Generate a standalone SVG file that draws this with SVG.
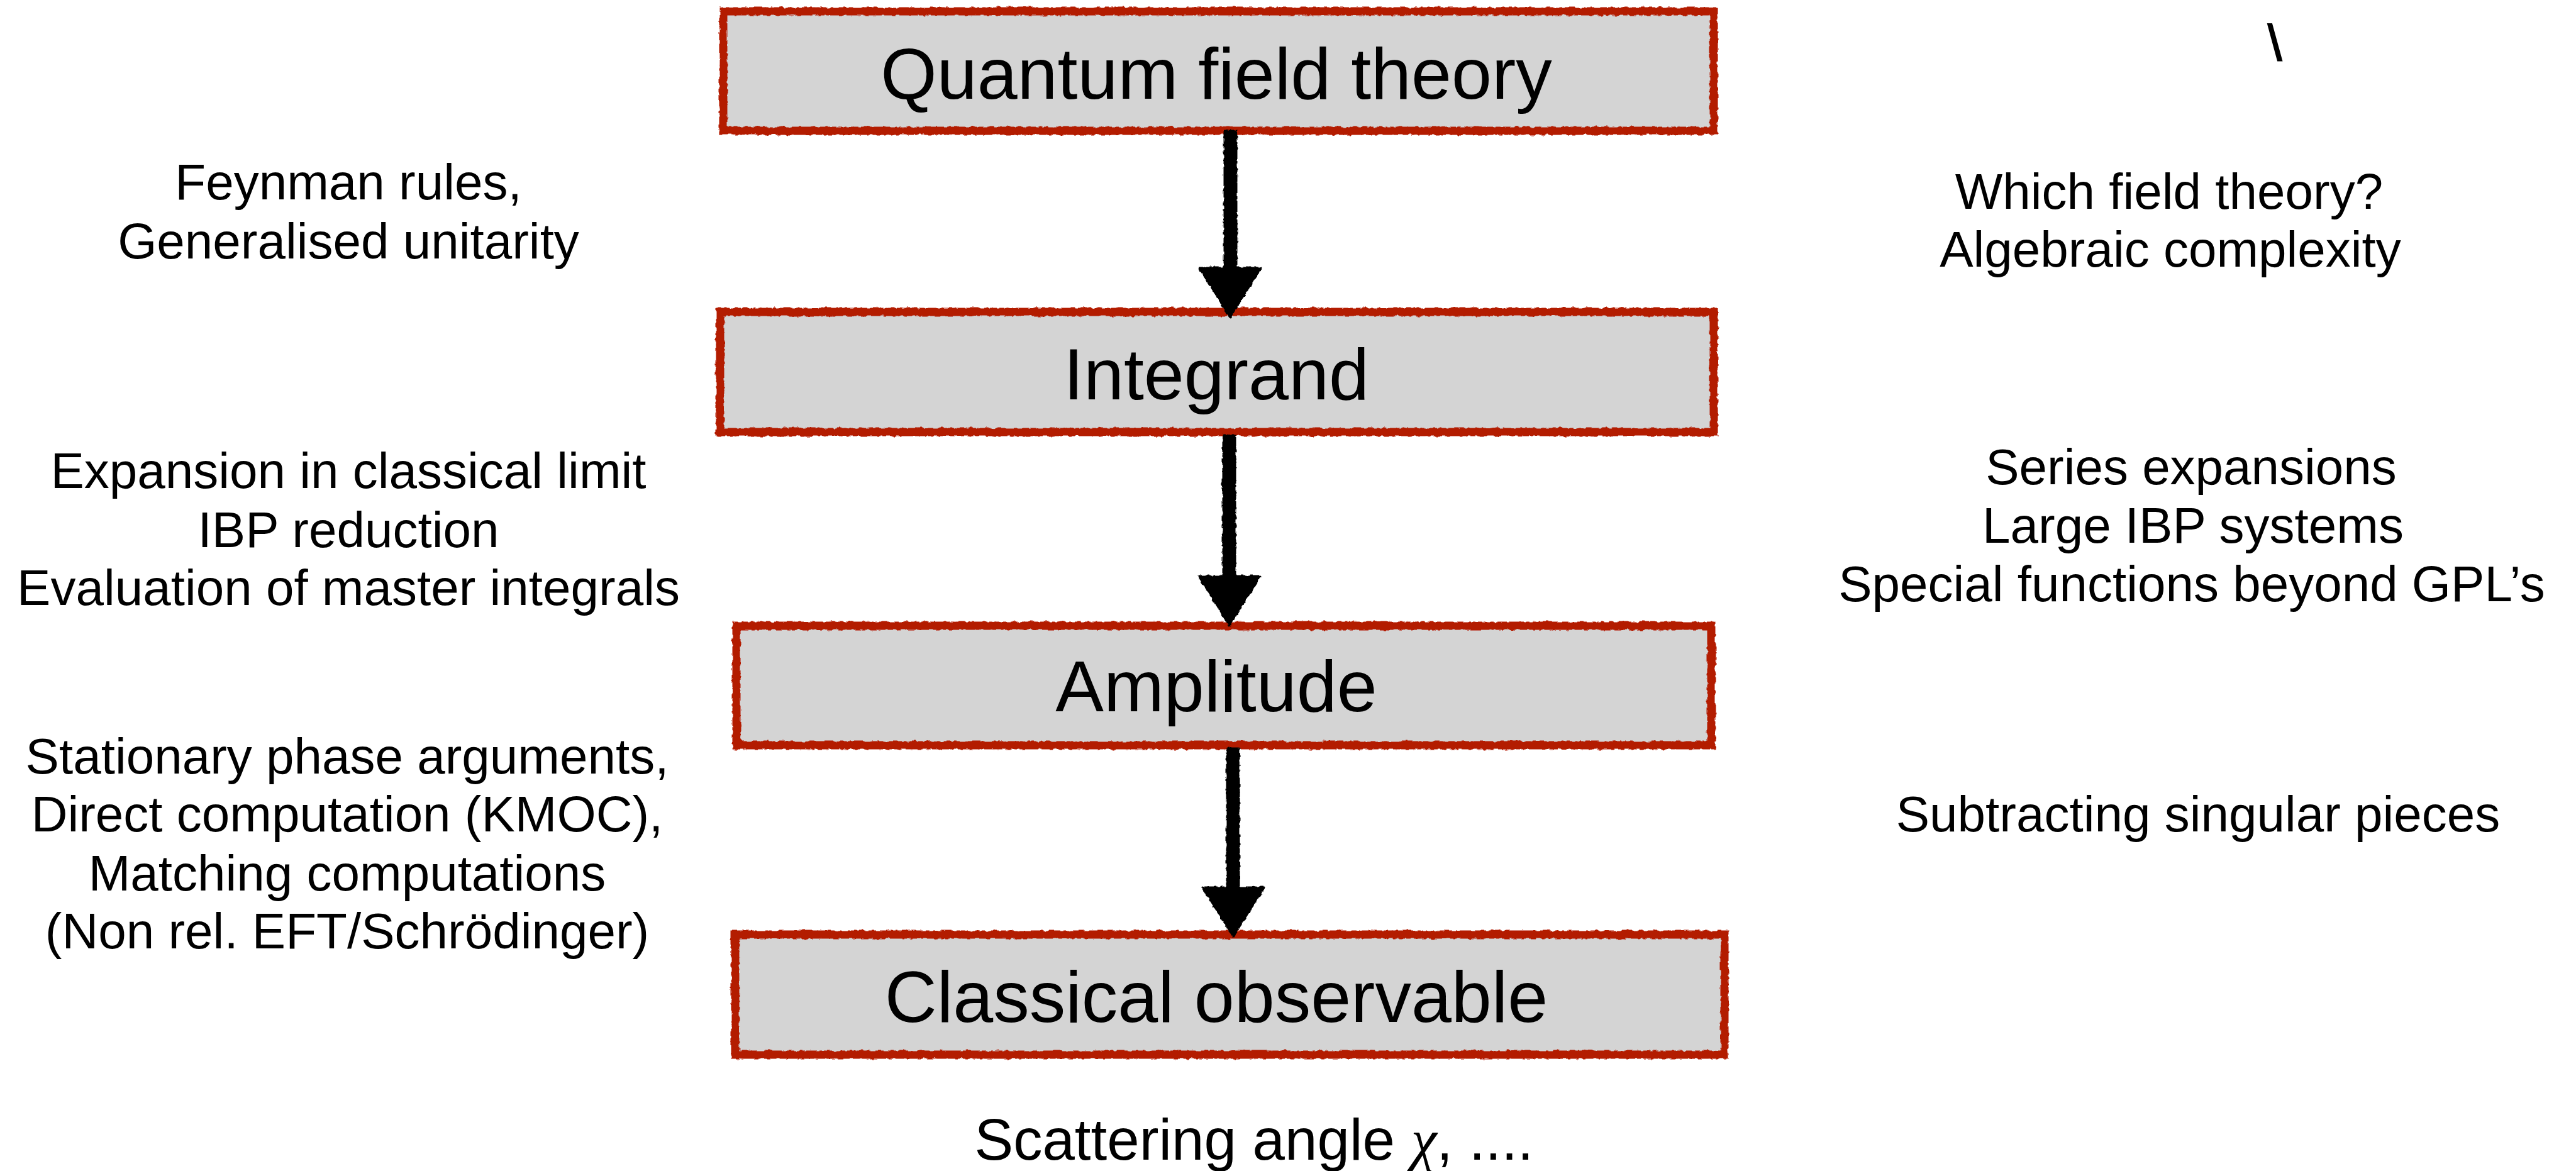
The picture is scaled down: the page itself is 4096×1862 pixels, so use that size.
<svg xmlns="http://www.w3.org/2000/svg" width="4096" height="1862" viewBox="0 0 4096 1862">
<style>
  .box { fill: #D4D4D4; }
  .border { fill: none; stroke: #B31A00; stroke-width: 13; filter: url(#rough); }
  .title { font-family: "Liberation Sans", Arial, sans-serif; font-size: 115px; fill: #000; text-anchor: middle; }
  .note { font-family: "Liberation Sans", Arial, sans-serif; font-size: 80px; fill: #000; text-anchor: middle; }
  .arrow { fill: #000; stroke: #000; stroke-width: 3; stroke-linejoin: round; filter: url(#rough2); }
</style>
<defs>
  <filter id="rough" x="-5%" y="-10%" width="110%" height="120%">
    <feTurbulence type="fractalNoise" baseFrequency="0.12" numOctaves="2" seed="4" result="n"/>
    <feDisplacementMap in="SourceGraphic" in2="n" scale="6" xChannelSelector="R" yChannelSelector="G"/>
  </filter>
  <filter id="rough2" x="-20%" y="-5%" width="140%" height="110%">
    <feTurbulence type="fractalNoise" baseFrequency="0.15" numOctaves="2" seed="7" result="n"/>
    <feDisplacementMap in="SourceGraphic" in2="n" scale="5" xChannelSelector="R" yChannelSelector="G"/>
  </filter>
</defs>
<rect width="4096" height="1862" fill="#FFFFFF"/>

<g id="node-qft">
  <rect class="box" x="1150" y="18" width="1575" height="190"/>
  <rect class="border" x="1150" y="18" width="1575" height="190"/>
  <text class="title" x="1934" y="157">Quantum field theory</text>
</g>
<g id="node-integrand">
  <rect class="box" x="1145" y="496" width="1580" height="191"/>
  <rect class="border" x="1145" y="496" width="1580" height="191"/>
  <text class="title" x="1934" y="635">Integrand</text>
</g>
<g id="node-amplitude">
  <rect class="box" x="1171" y="995" width="1550" height="190"/>
  <rect class="border" x="1171" y="995" width="1550" height="190"/>
  <text class="title" x="1934" y="1131">Amplitude</text>
</g>
<g id="node-classical">
  <rect class="box" x="1169" y="1486" width="1573" height="191"/>
  <rect class="border" x="1169" y="1486" width="1573" height="191"/>
  <text class="title" x="1934" y="1625">Classical observable</text>
</g>

<g id="notes-left-1">
  <text class="note" x="554" y="317">Feynman rules,</text>
  <text class="note" x="554" y="411">Generalised unitarity</text>
</g>
<g id="notes-left-2">
  <text class="note" x="554" y="776">Expansion in classical limit</text>
  <text class="note" x="554" y="870">IBP reduction</text>
  <text class="note" x="554" y="962">Evaluation of master integrals</text>
</g>
<g id="notes-left-3">
  <text class="note" x="552" y="1230">Stationary phase arguments,</text>
  <text class="note" x="552" y="1322">Direct computation (KMOC),</text>
  <text class="note" x="552" y="1416">Matching computations</text>
  <text class="note" x="552" y="1508">(Non rel. EFT/Schrödinger)</text>
</g>
<g id="notes-right-1">
  <text class="note" x="3449" y="332">Which field theory?</text>
  <text class="note" x="3451" y="424">Algebraic complexity</text>
</g>
<g id="notes-right-2">
  <text class="note" x="3484" y="770">Series expansions</text>
  <text class="note" x="3487" y="863">Large IBP systems</text>
  <text class="note" x="3485" y="956">Special functions beyond GPL’s</text>
</g>
<g id="notes-right-3">
  <text class="note" x="3495" y="1322">Subtracting singular pieces</text>
</g>
<g id="note-bottom">
  <text class="note" x="1994" y="1844" style="font-size:92.5px">Scattering angle <tspan style="font-family:'Liberation Serif','Times New Roman',serif;font-style:italic">χ</tspan>, ....</text>
</g>
<g id="backslash">
  <text x="3606" y="96" style="font-family:'Liberation Sans',Arial,sans-serif;font-size:80px;fill:#000;stroke:#000;stroke-width:2">\</text>
</g>

<g id="connectors">
  <path class="arrow" d="M1947,208 L1966,208 L1966,426 L2005,426 L1956,504 L1907,426 L1947,426 Z"/>
  <path class="arrow" d="M1945,692 L1964,692 L1964,916 L2004,916 L1955,994 L1906,916 L1945,916 Z"/>
  <path class="arrow" d="M1951,1190 L1970,1190 L1970,1411 L2010,1411 L1961,1489 L1912,1411 L1951,1411 Z"/>
</g>
</svg>
